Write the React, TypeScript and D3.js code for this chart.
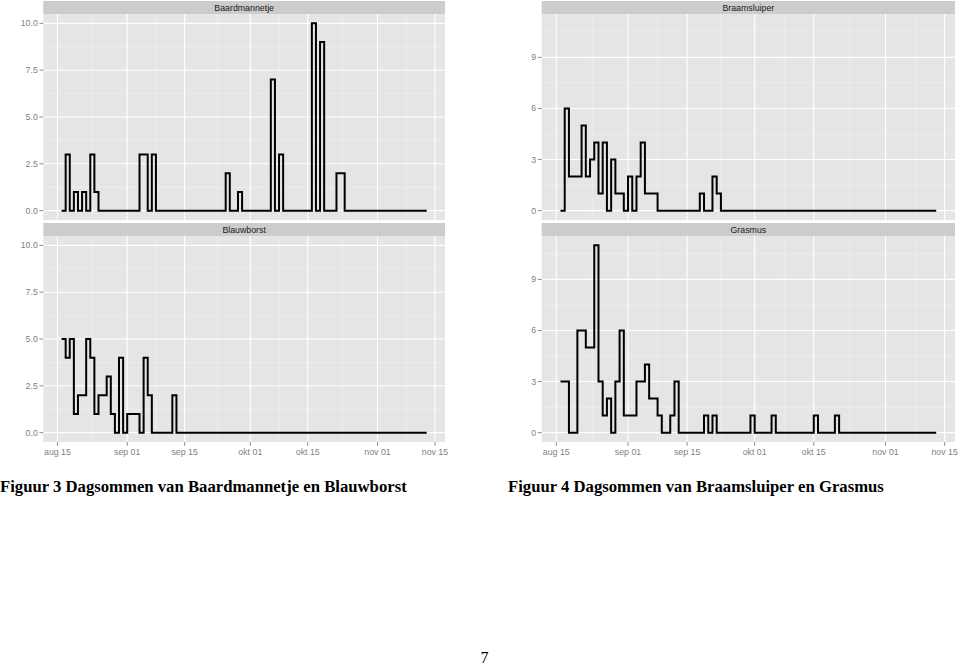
import React from 'react'
import * as d3 from 'd3'

// daily counts, first day = 16 aug, last day = 13 nov
const firstDay = Date.UTC(2013, 7, 16)

const baardmannetje = [
  0, 3, 0, 1, 0, 1, 0, 3, 1, 0,
  0, 0, 0, 0, 0, 0, 0, 0, 0, 3,
  3, 0, 3, 0, 0, 0, 0, 0, 0, 0,
  0, 0, 0, 0, 0, 0, 0, 0, 0, 0,
  2, 0, 0, 1, 0, 0, 0, 0, 0, 0,
  0, 7, 0, 3, 0, 0, 0, 0, 0, 0,
  0, 10, 0, 9, 0, 0, 0, 2, 2, 0,
  0, 0, 0, 0, 0, 0, 0, 0, 0, 0,
  0, 0, 0, 0, 0, 0, 0, 0, 0, 0
]

const blauwborst = [
  5, 4, 5, 1, 2, 2, 5, 4, 1, 2,
  2, 3, 1, 0, 4, 0, 1, 1, 1, 0,
  4, 2, 0, 0, 0, 0, 0, 2, 0, 0,
  0, 0, 0, 0, 0, 0, 0, 0, 0, 0,
  0, 0, 0, 0, 0, 0, 0, 0, 0, 0,
  0, 0, 0, 0, 0, 0, 0, 0, 0, 0,
  0, 0, 0, 0, 0, 0, 0, 0, 0, 0,
  0, 0, 0, 0, 0, 0, 0, 0, 0, 0,
  0, 0, 0, 0, 0, 0, 0, 0, 0, 0
]

const braamsluiper = [
  0, 6, 2, 2, 2, 5, 2, 3, 4, 1,
  4, 0, 3, 1, 1, 0, 2, 0, 2, 4,
  1, 1, 1, 0, 0, 0, 0, 0, 0, 0,
  0, 0, 0, 1, 0, 0, 2, 1, 0, 0,
  0, 0, 0, 0, 0, 0, 0, 0, 0, 0,
  0, 0, 0, 0, 0, 0, 0, 0, 0, 0,
  0, 0, 0, 0, 0, 0, 0, 0, 0, 0,
  0, 0, 0, 0, 0, 0, 0, 0, 0, 0,
  0, 0, 0, 0, 0, 0, 0, 0, 0, 0
]

const grasmus = [
  3, 3, 0, 0, 6, 6, 5, 5, 11, 3,
  1, 2, 0, 3, 6, 1, 1, 1, 3, 3,
  4, 2, 2, 1, 0, 0, 1, 3, 0, 0,
  0, 0, 0, 0, 1, 0, 1, 0, 0, 0,
  0, 0, 0, 0, 0, 1, 0, 0, 0, 0,
  1, 0, 0, 0, 0, 0, 0, 0, 0, 0,
  1, 0, 0, 0, 0, 1, 0, 0, 0, 0,
  0, 0, 0, 0, 0, 0, 0, 0, 0, 0,
  0, 0, 0, 0, 0, 0, 0, 0, 0, 0
]

const xTickDates = [
  Date.UTC(2013, 7, 15),
  Date.UTC(2013, 8, 1),
  Date.UTC(2013, 8, 15),
  Date.UTC(2013, 9, 1),
  Date.UTC(2013, 9, 15),
  Date.UTC(2013, 10, 1),
  Date.UTC(2013, 10, 15)
]
const xTickLabels = ['aug 15', 'sep 01', 'sep 15', 'okt 01', 'okt 15', 'nov 01', 'nov 15']

const leftYTicks = [0, 2.5, 5, 7.5, 10]
const leftYLabels = ['0.0', '2.5', '5.0', '7.5', '10.0']
const rightYTicks = [0, 3, 6, 9]
const rightYLabels = ['0', '3', '6', '9']

const DAY = 86400000
const sans = '"Liberation Sans", Arial, sans-serif'
const serif = '"Liberation Serif", "Times New Roman", serif'

const dates = (vals: number[]) => vals.map((_, i) => new Date(firstDay + i * DAY))

interface PanelProps {
  title: string
  values: number[]
  left: number
  right: number
  stripTop: number
  bottom: number
  yMax: number
  yTicks: number[]
  yLabels: string[]
  showX: boolean
}

const Panel = ({ title, values, left, right, stripTop, bottom, yMax, yTicks, yLabels, showX }: PanelProps) => {
  const top = stripTop + 13
  const days = dates(values)
  const span = (days.length - 1) * DAY
  const x = d3
    .scaleUtc()
    .domain([new Date(firstDay - span * 0.05), new Date(firstDay + span * 1.05)])
    .range([left, right])
  const y = d3
    .scaleLinear()
    .domain([-yMax * 0.05, yMax * 1.05])
    .range([bottom, top])

  const step = 0.5 * (yTicks[1] - yTicks[0])
  const yMinor = d3.range(yTicks[0] + step, yMax * 1.05, step * 2)
  const xMinor = xTickDates.slice(1).map((d, i) => (d + xTickDates[i]) / 2)

  const pts = values.map((v, i) => [x(days[i]), y(v)] as [number, number])
  const path = d3.line().curve(d3.curveStepAfter)(pts) || ''

  return (
    <g>
      <rect x={left} y={stripTop} width={right - left} height={13} fill="#cccccc" />
      <text
        x={(left + right) / 2}
        y={stripTop + 6.8}
        textAnchor="middle"
        dominantBaseline="central"
        fontFamily={sans}
        fontSize={8.8}
        fill="#1a1a1a"
      >
        {title}
      </text>
      <rect x={left} y={top} width={right - left} height={bottom - top} fill="#e5e5e5" />
      {yMinor.map(v => (
        <line key={'ym' + v} x1={left} x2={right} y1={y(v)} y2={y(v)} stroke="#f2f2f2" strokeWidth={0.6} />
      ))}
      {xMinor.map(d => (
        <line key={'xm' + d} x1={x(new Date(d))} x2={x(new Date(d))} y1={top} y2={bottom} stroke="#f2f2f2" strokeWidth={0.6} />
      ))}
      {yTicks.map(v => (
        <line key={'y' + v} x1={left} x2={right} y1={y(v)} y2={y(v)} stroke="#ffffff" strokeWidth={1.1} />
      ))}
      {xTickDates.map(d => (
        <line key={'x' + d} x1={x(new Date(d))} x2={x(new Date(d))} y1={top} y2={bottom} stroke="#ffffff" strokeWidth={1.1} />
      ))}
      <path d={path} fill="none" stroke="#000" strokeWidth={2} strokeLinejoin="miter" />
      {yTicks.map((v, i) => (
        <g key={'yt' + v}>
          <line x1={left - 3.8} x2={left} y1={y(v)} y2={y(v)} stroke="#7f7f7f" strokeWidth={0.9} />
          <text
            x={left - 5.5}
            y={y(v)}
            textAnchor="end"
            dominantBaseline="central"
            fontFamily={sans}
            fontSize={8.8}
            fill="#7f7f7f"
          >
            {yLabels[i]}
          </text>
        </g>
      ))}
      {showX &&
        xTickDates.map((d, i) => (
          <g key={'xt' + d}>
            <line x1={x(new Date(d))} x2={x(new Date(d))} y1={bottom} y2={bottom + 3.8} stroke="#7f7f7f" strokeWidth={0.9} />
            <text
              x={x(new Date(d))}
              y={bottom + 10}
              textAnchor="middle"
              dominantBaseline="central"
              fontFamily={sans}
              fontSize={8.8}
              fill="#7f7f7f"
            >
              {xTickLabels[i]}
            </text>
          </g>
        ))}
    </g>
  )
}

const App = () => {
  const leftMax = d3.max([...baardmannetje, ...blauwborst]) || 0
  const rightMax = d3.max([...braamsluiper, ...grasmus]) || 0
  return (
    <svg
      width={960}
      height={665}
      style={{ position: 'absolute', left: 0, top: 0, display: 'block', background: '#fff' }}
    >
      <Panel title="Baardmannetje" values={baardmannetje} left={43.3} right={445} stripTop={1} bottom={220}
        yMax={leftMax} yTicks={leftYTicks} yLabels={leftYLabels} showX={false} />
      <Panel title="Blauwborst" values={blauwborst} left={43.3} right={445} stripTop={223} bottom={442}
        yMax={leftMax} yTicks={leftYTicks} yLabels={leftYLabels} showX={true} />
      <Panel title="Braamsluiper" values={braamsluiper} left={541.7} right={955} stripTop={1} bottom={220}
        yMax={rightMax} yTicks={rightYTicks} yLabels={rightYLabels} showX={false} />
      <Panel title="Grasmus" values={grasmus} left={541.7} right={955} stripTop={223} bottom={442}
        yMax={rightMax} yTicks={rightYTicks} yLabels={rightYLabels} showX={true} />
      <text x={0} y={492} fontFamily={serif} fontWeight="bold" fontSize={16.7} fill="#000">
        Figuur 3 Dagsommen van Baardmannetje en Blauwborst
      </text>
      <text x={508} y={492} fontFamily={serif} fontWeight="bold" fontSize={16.7} fill="#000">
        Figuur 4 Dagsommen van Braamsluiper en Grasmus
      </text>
      <text x={484.5} y={663} textAnchor="middle" fontFamily={serif} fontSize={16} fill="#000">
        7
      </text>
    </svg>
  )
}

export default App
